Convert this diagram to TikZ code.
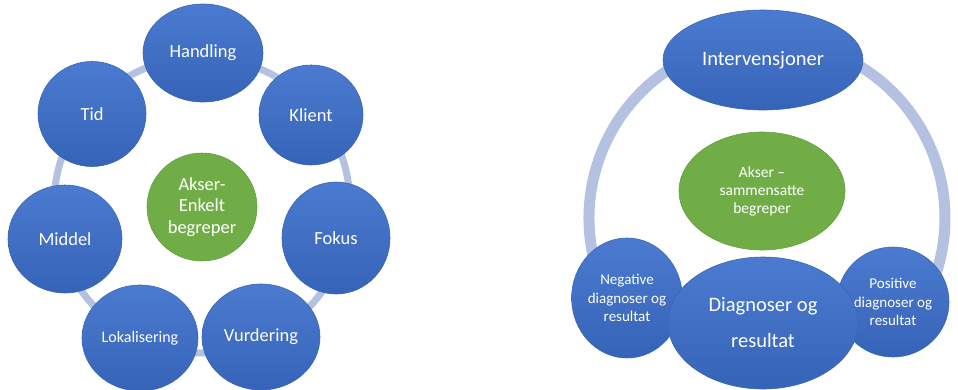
\documentclass[tikz,border=0pt]{standalone}
\usepackage{fontspec}
\setmainfont{Carlito}
\usetikzlibrary{shapes.geometric}
\definecolor{bluetop}{HTML}{4B7BD0}
\definecolor{bluebot}{HTML}{3563B8}
\definecolor{blueedge}{HTML}{3A66B5}
\definecolor{grn}{HTML}{70AD47}
\definecolor{grnedge}{HTML}{64A03E}
\definecolor{ringc}{HTML}{B4C1E0}
\begin{document}
\begin{tikzpicture}[x=1pt,y=-1pt,
  bnode/.style={ellipse, inner sep=0pt, top color=bluetop, bottom color=bluebot, draw=blueedge, line width=0.6pt, text=white, align=center, font=\fontsize{18.5}{22}\selectfont},
  gnode/.style={ellipse, inner sep=0pt, fill=grn, draw=grnedge, line width=0.6pt, text=white, align=center},
  ringline/.style={draw=ringc}]
\useasboundingbox (0,0) rectangle (958,389);
% left diagram
\coordinate (lc) at (202,205);
\draw[ringline, line width=7pt] (lc) circle[radius=148];
\node[bnode, minimum width=120, minimum height=98] (handling) at (203,53) {Handling};
\node[bnode, minimum width=108, minimum height=105] (tid) at (92,114) {Tid};
\node[bnode, minimum width=104, minimum height=100] (klient) at (311,115) {Klient};
\node[bnode, minimum width=114, minimum height=108] (middel) at (65,239) {Middel};
\node[bnode, minimum width=108, minimum height=112] (fokus) at (336,238) {Fokus};
\node[bnode, minimum width=116, minimum height=106, font=\fontsize{16}{19}\selectfont] (lokal) at (140,338) {Lokalisering};
\node[bnode, minimum width=118, minimum height=106] (vurd) at (261,337) {Vurdering};
\node[gnode, minimum width=110, minimum height=108, font=\fontsize{18.5}{21.7}\selectfont] (akser1) at (202,207) {Akser-\\Enkelt\\begreper};
% right diagram
\coordinate (rc) at (767,218);
\coordinate (rstart) at ([shift={(159.6:178)}]rc);
\draw[ringline, line width=11pt] (rstart) arc[start angle=159.6, end angle=380.4, radius=178];
\node[bnode, minimum width=200, minimum height=100, font=\fontsize{20.5}{25}\selectfont] (interv) at (763,60) {Intervensjoner};
\node[gnode, minimum width=166, minimum height=118, font=\fontsize{15.5}{18}\selectfont] (akser2) at (762,191) {Akser –\\sammensatte\\begreper};
\node[bnode, minimum width=108, minimum height=120, font=\fontsize{15}{18.5}\selectfont] (neg) at (627,298) {Negative\\diagnoser og\\resultat};
\node[bnode, minimum width=112, minimum height=110, font=\fontsize{15}{18.5}\selectfont] (pos) at (893,302) {Positive\\diagnoser og\\resultat};
\node[bnode, minimum width=190, minimum height=132, font=\fontsize{20.5}{36}\selectfont] (diag) at (763,323) {Diagnoser og\\resultat};
\end{tikzpicture}
\end{document}
